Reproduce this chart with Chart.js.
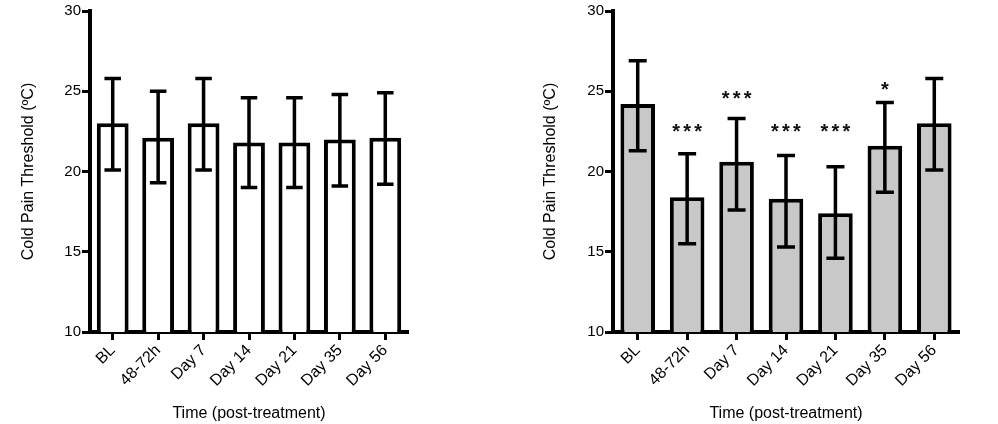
<!DOCTYPE html>
<html>
<head>
<meta charset="utf-8">
<script src="https://cdn.jsdelivr.net/npm/chart.js@4.4.1/dist/chart.umd.min.js"></script>
<style>
  body { margin: 0; background: #fff; }
  #wrap { position: relative; width: 998px; height: 424px; }
  .box { position: absolute; top: 0; height: 424px; }
</style>
</head>
<body>
<div id="wrap">
  <div class="box" style="left:0;width:500px"><canvas id="izq"></canvas></div>
  <div class="box" style="left:500px;width:498px"><canvas id="der"></canvas></div>
</div>
<script>
// Datos
const categorias = ['BL', '48-72h', 'Day 7', 'Day 14', 'Day 21', 'Day 35', 'Day 56'];
const ticksY = [10, 15, 20, 25, 30];

// panel izquierdo
const mediaIzq = [23.0, 22.1, 23.0, 21.8, 21.8, 22.0, 22.1];
const errAltoIzq = [25.8, 25.0, 25.8, 24.6, 24.6, 24.8, 24.9];
const errBajoIzq = [20.1, 19.3, 20.1, 19.0, 19.0, 19.1, 19.2];

// panel derecho
const mediaDer = [24.2, 18.4, 20.6, 18.3, 17.4, 21.6, 23.0];
const errAltoDer = [26.9, 21.1, 23.3, 21.0, 20.3, 24.3, 25.8];
const errBajoDer = [21.3, 15.5, 17.6, 15.3, 14.6, 18.7, 20.1];
const estrellasDer = ['', '***', '***', '***', '***', '*', ''];
const nivelEstrellas = [null, 22.8, 24.85, 22.75, 22.75, 25.4, null];

const fuente = '"Liberation Sans", Arial, sans-serif';

// Plugin para barras de error y asteriscos
const barrasError = {
  id: 'barrasError',
  afterDatasetsDraw(chart, args, opts) {
    const ctx = chart.ctx;
    const y = chart.scales.y;
    const meta = chart.getDatasetMeta(0);
    ctx.save();
    ctx.strokeStyle = '#000';
    ctx.lineWidth = 3.5;
    ctx.lineCap = 'butt';
    meta.data.forEach((bar, i) => {
      const cx = bar.x;
      const half = bar.width * 0.26;
      const yA = y.getPixelForValue(opts.alto[i]);
      const yB = y.getPixelForValue(opts.bajo[i]);
      ctx.beginPath();
      ctx.moveTo(cx, yA); ctx.lineTo(cx, yB);
      ctx.moveTo(cx - half, yA); ctx.lineTo(cx + half, yA);
      ctx.moveTo(cx - half, yB); ctx.lineTo(cx + half, yB);
      ctx.stroke();
      if (opts.estrellas && opts.estrellas[i]) {
        const n = opts.estrellas[i].length;
        const yc = y.getPixelForValue(opts.nivel[i]);
        ctx.fillStyle = '#111';
        ctx.font = 'bold 20px ' + fuente;
        ctx.textAlign = 'center';
        ctx.textBaseline = 'alphabetic';
        for (let k = 0; k < n; k++) {
          ctx.fillText('*', cx + (k - (n - 1) / 2) * 11, yc + 11);
        }
      }
    });
    ctx.restore();
  }
};

function crearGrafico(id, medias, alto, bajo, relleno, anchoY, padDer, padTitulo, estrellas, nivel) {
  const ctx = document.getElementById(id).getContext('2d');
  return new Chart(ctx, {
    type: 'bar',
    data: {
      labels: categorias,
      datasets: [{
        data: medias,
        backgroundColor: relleno,
        borderColor: '#000',
        borderWidth: 4,
        borderSkipped: false,
        barPercentage: 0.7,
        categoryPercentage: 1.0
      }]
    },
    options: {
      responsive: true,
      maintainAspectRatio: false,
      animation: false,
      layout: { padding: { top: 11, right: padDer, bottom: 0, left: 0 } },
      plugins: {
        legend: { display: false },
        tooltip: { enabled: false },
        barrasError: { alto: alto, bajo: bajo, estrellas: estrellas, nivel: nivel }
      },
      scales: {
        x: {
          offset: true,
          grid: { drawOnChartArea: false, offset: false, tickLength: 8, tickWidth: 3, tickColor: '#000' },
          border: { color: '#000', width: 4 },
          ticks: {
            color: '#000', font: { family: fuente, size: 16 },
            minRotation: 45, maxRotation: 45, padding: 1, autoSkip: false
          },
          title: {
            display: true, text: 'Time (post-treatment)', color: '#000',
            font: { family: fuente, size: 16 }, padding: { top: 0, bottom: 1 }
          },
          afterFit(s) { s.height = 92; }
        },
        y: {
          min: ticksY[0], max: ticksY[ticksY.length - 1],
          afterBuildTicks(s) { s.ticks = ticksY.map(v => ({ value: v })); },
          grid: { drawOnChartArea: false, tickLength: 8, tickWidth: 3, tickColor: '#000' },
          border: { color: '#000', width: 4 },
          ticks: { color: '#000', font: { family: fuente, size: 15 }, padding: 1 },
          title: {
            display: true, text: 'Cold Pain Threshold (ºC)', color: '#000',
            font: { family: fuente, size: 16 }, padding: { top: padTitulo, bottom: 0 }
          },
          afterFit(s) { s.width = anchoY; }
        }
      }
    },
    plugins: [barrasError]
  });
}

crearGrafico('izq', mediaIzq, errAltoIzq, errBajoIzq, '#ffffff', 90, 92, 19.4, null, null);
crearGrafico('der', mediaDer, errAltoDer, errBajoDer, '#c8c8c8', 113, 39, 41.4, estrellasDer, nivelEstrellas);
</script>
</body>
</html>
